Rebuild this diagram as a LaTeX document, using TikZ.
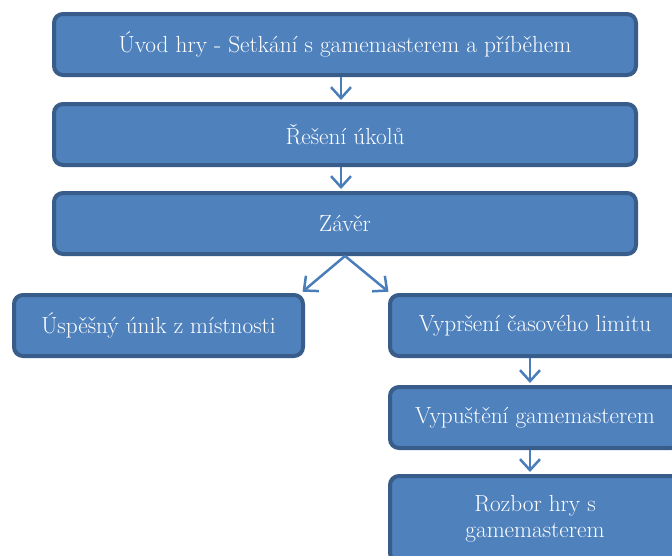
\documentclass[tikz,border=0pt]{standalone}
\usepackage{fontspec}
\usetikzlibrary{arrows.meta}
\definecolor{boxfill}{HTML}{4F81BD}
\definecolor{boxline}{HTML}{385D8A}
\definecolor{arrcol}{HTML}{4A7EBB}
\begin{document}
\begin{tikzpicture}[x=1pt,y=-1pt,
  stepbox/.style={draw=boxline, fill=boxfill, line width=4pt, rounded corners=9pt,
    text=white, align=center, inner sep=0pt, font=\fontsize{23.3}{26}\selectfont},
  arr/.style={draw=arrcol, line width=2.5pt, -{Straight Barb[length=11pt,width=20pt]}, shorten >=2pt}]
\useasboundingbox (0,0) rectangle (672,555);
\clip (0,0) rectangle (672,555);
\node[stepbox, minimum width=582pt, minimum height=61pt] (b1) at (345,44.5) {Úvod hry - Setkání s gamemasterem a příběhem};
\node[stepbox, minimum width=582pt, minimum height=61pt] (b2) at (345,134.5) {Řešení úkolů};
\node[stepbox, minimum width=582pt, minimum height=61pt] (b3) at (345,223.5) {Závěr};
\node[stepbox, minimum width=289pt, minimum height=61pt] (b4) at (158.5,325.5) {Úspěšný únik z místnosti};
\node[stepbox, minimum width=290pt, minimum height=61pt] (b5) at (535,325.5) {Vypršení časového limitu};
\node[stepbox, minimum width=290pt, minimum height=61pt] (b6) at (535,417.5) {Vypuštění gamemasterem};
\node[stepbox, minimum width=290pt, minimum height=86pt] (b7) at (535,519) {Rozbor hry s\\gamemasterem};
\draw[arr] ([xshift=-4pt]b1.south) -- ([xshift=-4pt]b2.north);
\draw[arr] ([xshift=-4pt]b2.south) -- ([xshift=-4pt]b3.north);
\draw[arr] (b3.south) -- ([xshift=-4pt]b4.north east);
\draw[arr] (b3.south) -- ([xshift=2pt]b5.north west);
\draw[arr] ([xshift=-5pt]b5.south) -- ([xshift=-5pt]b6.north);
\draw[arr] ([xshift=-5pt]b6.south) -- ([xshift=-5pt]b7.north);
\end{tikzpicture}
\end{document}
